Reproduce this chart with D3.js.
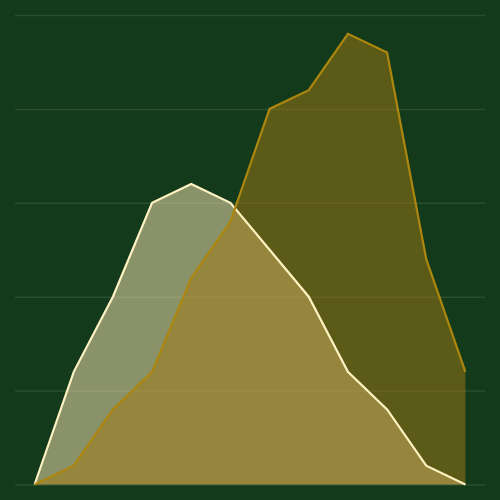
<!DOCTYPE html>
<html>
<head>
<meta charset="utf-8">
<script src="https://cdn.jsdelivr.net/npm/d3@7"></script>
<style>
  html, body { margin: 0; padding: 0; background: #133a1a; }
  svg { display: block; }
</style>
</head>
<body>
<svg id="chart" width="500" height="500"></svg>
<script>
const categories = ["1","2","3","4","5","6","7","8","9","10","11","12"];
const seriesLight = [0, 6, 10, 15, 16, 15, 12.5, 10, 6, 4, 1, 0];
const seriesGold  = [0, 1, 4, 6, 11, 14, 20, 21, 24, 23, 12, 6];
const yTicks = [0, 5, 10, 15, 20, 25];

const svg = d3.select("#chart");
svg.append("rect").attr("width", 500).attr("height", 500).attr("fill", "#133a1a");

const x = d3.scalePoint().domain(categories).range([15, 485]).padding(0.5);
const y = d3.scaleLinear().domain([0, 25]).range([484.5, 15]);

// gridlines
const yAxis = d3.axisLeft(y).tickValues(yTicks).tickSize(-470).tickFormat("");
const g = svg.append("g").attr("transform", "translate(15,0)").call(yAxis);
g.select(".domain").remove();
g.selectAll(".tick line").attr("stroke", "rgba(255,255,255,0.1)").attr("stroke-width", 1.5);

const area = d3.area()
  .x((d, i) => x(categories[i]))
  .y0(y(0))
  .y1(d => y(d));
const line = d3.line()
  .x((d, i) => x(categories[i]))
  .y(d => y(d));

svg.append("path").datum(seriesLight).attr("d", area)
  .attr("fill", "#ffeab6").attr("fill-opacity", 0.5);
svg.append("path").datum(seriesGold).attr("d", area)
  .attr("fill", "#a37a12").attr("fill-opacity", 0.5);

svg.append("path").datum(seriesLight).attr("d", line)
  .attr("fill", "none").attr("stroke", "#fff2c2").attr("stroke-width", 2.2)
  .attr("stroke-linejoin", "miter");
svg.append("path").datum(seriesGold).attr("d", line)
  .attr("fill", "none").attr("stroke", "#ad860f").attr("stroke-width", 2.2)
  .attr("stroke-linejoin", "miter");
</script>
</body>
</html>
